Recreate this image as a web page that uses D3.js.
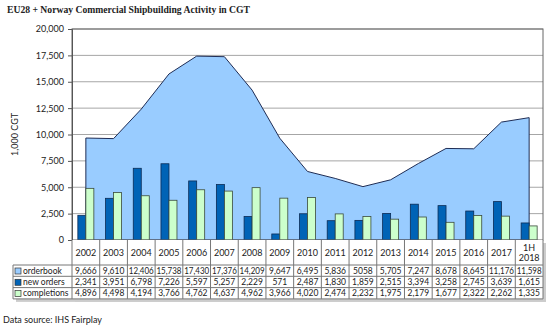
<!DOCTYPE html>
<html lang="en">
<head>
<meta charset="UTF-8">
<title>EU28 + Norway Commercial Shipbuilding Activity in CGT</title>
<script src="https://cdnjs.cloudflare.com/ajax/libs/d3/7.8.5/d3.min.js"></script>
<style>
  body { margin: 0; background: #fff; }
  svg text { font-family: Lato, "Open Sans", sans-serif; fill: #222; }
</style>
</head>
<body>
<div class="chart"></div>
<script>
  const years = ['2002','2003','2004','2005','2006','2007','2008','2009','2010','2011','2012','2013','2014','2015','2016','2017','1H 2018']
  const orderbook = [9666, 9610, 12406, 15738, 17430, 17376, 14209, 9647, 6495, 5836, 5058, 5705, 7247, 8678, 8645, 11176, 11598]
  const newOrders = [2341, 3951, 6798, 7226, 5597, 5257, 2229, 571, 2487, 1830, 1859, 2515, 3394, 3258, 2745, 3639, 1615]
  const completions = [4896, 4498, 4194, 3766, 4762, 4637, 4962, 3966, 4020, 2474, 2232, 1975, 2179, 1677, 2322, 2262, 1335]
  const yTicks = [0, 2500, 5000, 7500, 10000, 12500, 15000, 17500, 20000]
  // orderbook label in table uses "5058" without comma, as in the source
  const orderbookText = ['9,666','9,610','12,406','15,738','17,430','17,376','14,209','9,647','6,495','5,836','5058','5,705','7,247','8,678','8,645','11,176','11,598']

  const width = 550
  const height = 327
  const plot = { left: 72, right: 543, top: 29, bottom: 240 }

  const svg = d3.select('.chart').append('svg')
    .attr('width', width)
    .attr('height', height)

  const x = d3.scaleBand().domain(years).range([plot.left, plot.right])
  const y = d3.scaleLinear().domain([0, 20000]).range([plot.bottom, plot.top])
  const bw = x.bandwidth()
  const cx = (d) => x(d) + bw / 2

  // title
  svg.append('text')
    .attr('x', 7).attr('y', 13)
    .attr('textLength', 243).attr('lengthAdjust', 'spacingAndGlyphs')
    .style('font-family', '"Liberation Serif", "DejaVu Serif", serif')
    .style('font-weight', 'bold').style('font-size', '11px')
    .text('EU28 + Norway Commercial Shipbuilding Activity in CGT')

  // gridlines
  svg.append('g').selectAll('line')
    .data(yTicks.slice(1))
    .join('line')
    .attr('x1', plot.left).attr('x2', plot.right)
    .attr('y1', (d) => y(d)).attr('y2', (d) => y(d))
    .attr('stroke', '#a6a6a6').attr('stroke-width', 1)

  // orderbook area
  const area = d3.area()
    .x((d, i) => cx(years[i]))
    .y0(y(0))
    .y1((d) => y(d))
  svg.append('path')
    .datum(orderbook)
    .attr('d', area)
    .attr('fill', '#99ccff')
    .attr('stroke', '#1f2d55')
    .attr('stroke-width', 1)

  // bars
  const barW = 8
  svg.append('g').selectAll('rect')
    .data(newOrders)
    .join('rect')
    .attr('x', (d, i) => cx(years[i]) - barW)
    .attr('y', (d) => y(d))
    .attr('width', barW)
    .attr('height', (d) => y(0) - y(d))
    .attr('fill', '#0063b6')
    .attr('stroke', '#0b2b55').attr('stroke-width', 0.8)

  svg.append('g').selectAll('rect')
    .data(completions)
    .join('rect')
    .attr('x', (d, i) => cx(years[i]))
    .attr('y', (d) => y(d))
    .attr('width', barW)
    .attr('height', (d) => y(0) - y(d))
    .attr('fill', '#ccffcc')
    .attr('stroke', '#3a4a3a').attr('stroke-width', 0.8)

  // plot border
  svg.append('rect')
    .attr('x', plot.left).attr('y', plot.top)
    .attr('width', plot.right - plot.left).attr('height', plot.bottom - plot.top)
    .attr('fill', 'none').attr('stroke', '#666').attr('stroke-width', 1)

  // y axis
  const yAxis = d3.axisLeft(y).tickValues(yTicks).tickFormat(d3.format(',')).tickSize(4).tickPadding(4)
  const gy = svg.append('g')
    .attr('transform', `translate(${plot.left},0)`)
    .call(yAxis)
  gy.select('.domain').attr('stroke', '#555')
  gy.selectAll('.tick line').attr('stroke', '#555')
  gy.selectAll('.tick text').style('font-size', '9px').attr('fill', '#333')

  svg.append('text')
    .attr('transform', `translate(18,${(plot.top + plot.bottom) / 2}) rotate(-90)`)
    .attr('text-anchor', 'middle')
    .style('font-size', '9px')
    .text('1,000 CGT')

  // data table
  const rowTop = 265
  const rowH = 11.3
  const rows = [
    { name: 'orderbook', vals: orderbookText, color: '#99ccff' },
    { name: 'new orders', vals: newOrders.map(d3.format(',')), color: '#0063b6' },
    { name: 'completions', vals: completions.map(d3.format(',')), color: '#ccffcc' }
  ]
  const tableLeft = 13
  const tableBottom = rowTop + rowH * rows.length

  // shadow
  svg.append('rect')
    .attr('x', tableLeft + 3).attr('y', rowTop + 3)
    .attr('width', plot.right - tableLeft).attr('height', tableBottom - rowTop)
    .attr('fill', '#ccc')
  svg.append('rect')
    .attr('x', plot.left + 3).attr('y', plot.bottom + 3)
    .attr('width', plot.right - plot.left).attr('height', tableBottom - plot.bottom)
    .attr('fill', '#ccc')
  svg.append('rect')
    .attr('x', tableLeft).attr('y', rowTop)
    .attr('width', plot.right - tableLeft).attr('height', tableBottom - rowTop)
    .attr('fill', '#fff')
  svg.append('rect')
    .attr('x', plot.left).attr('y', plot.bottom)
    .attr('width', plot.right - plot.left).attr('height', tableBottom - plot.bottom)
    .attr('fill', '#fff')

  const table = svg.append('g')
  // column dividers
  table.selectAll('line.col')
    .data(years)
    .join('line')
    .attr('class', 'col')
    .attr('x1', (d) => x(d)).attr('x2', (d) => x(d))
    .attr('y1', plot.bottom).attr('y2', tableBottom)
    .attr('stroke', '#777')
  table.append('line')
    .attr('x1', plot.right).attr('x2', plot.right)
    .attr('y1', plot.bottom).attr('y2', tableBottom)
    .attr('stroke', '#777')
  table.append('line')
    .attr('x1', tableLeft).attr('x2', tableLeft)
    .attr('y1', rowTop).attr('y2', tableBottom)
    .attr('stroke', '#777')
  // row lines
  d3.range(rows.length + 1).forEach((i) => {
    table.append('line')
      .attr('x1', tableLeft).attr('x2', plot.right)
      .attr('y1', rowTop + i * rowH).attr('y2', rowTop + i * rowH)
      .attr('stroke', '#777')
  })

  // year headers
  years.forEach((d) => {
    const parts = d.split(' ')
    if (parts.length === 1) {
      table.append('text')
        .attr('x', cx(d)).attr('y', 256)
        .attr('text-anchor', 'middle').style('font-size', '9px')
        .text(d)
    } else {
      table.append('text')
        .attr('x', cx(d)).attr('y', 251)
        .attr('text-anchor', 'middle').style('font-size', '9px')
        .text(parts[0])
      table.append('text')
        .attr('x', cx(d)).attr('y', 261)
        .attr('text-anchor', 'middle').style('font-size', '9px')
        .text(parts[1])
    }
  })

  rows.forEach((r, ri) => {
    const ty = rowTop + ri * rowH + rowH / 2 + 3.2
    table.append('rect')
      .attr('x', tableLeft + 2).attr('y', rowTop + ri * rowH + 3)
      .attr('width', 6).attr('height', 6)
      .attr('fill', r.color).attr('stroke', '#333').attr('stroke-width', 0.7)
    table.append('text')
      .attr('x', tableLeft + 10).attr('y', ty)
      .style('font-size', '8.5px')
      .text(r.name)
    r.vals.forEach((v, i) => {
      table.append('text')
        .attr('x', cx(years[i])).attr('y', ty)
        .attr('text-anchor', 'middle')
        .attr('textLength', v.length > 5 ? 25 : null)
        .attr('lengthAdjust', 'spacingAndGlyphs')
        .style('font-size', '8.5px')
        .text(v)
    })
  })

  svg.append('text')
    .attr('x', 3).attr('y', 323)
    .style('font-size', '9px')
    .text('Data source: IHS Fairplay')
</script>
</body>
</html>
